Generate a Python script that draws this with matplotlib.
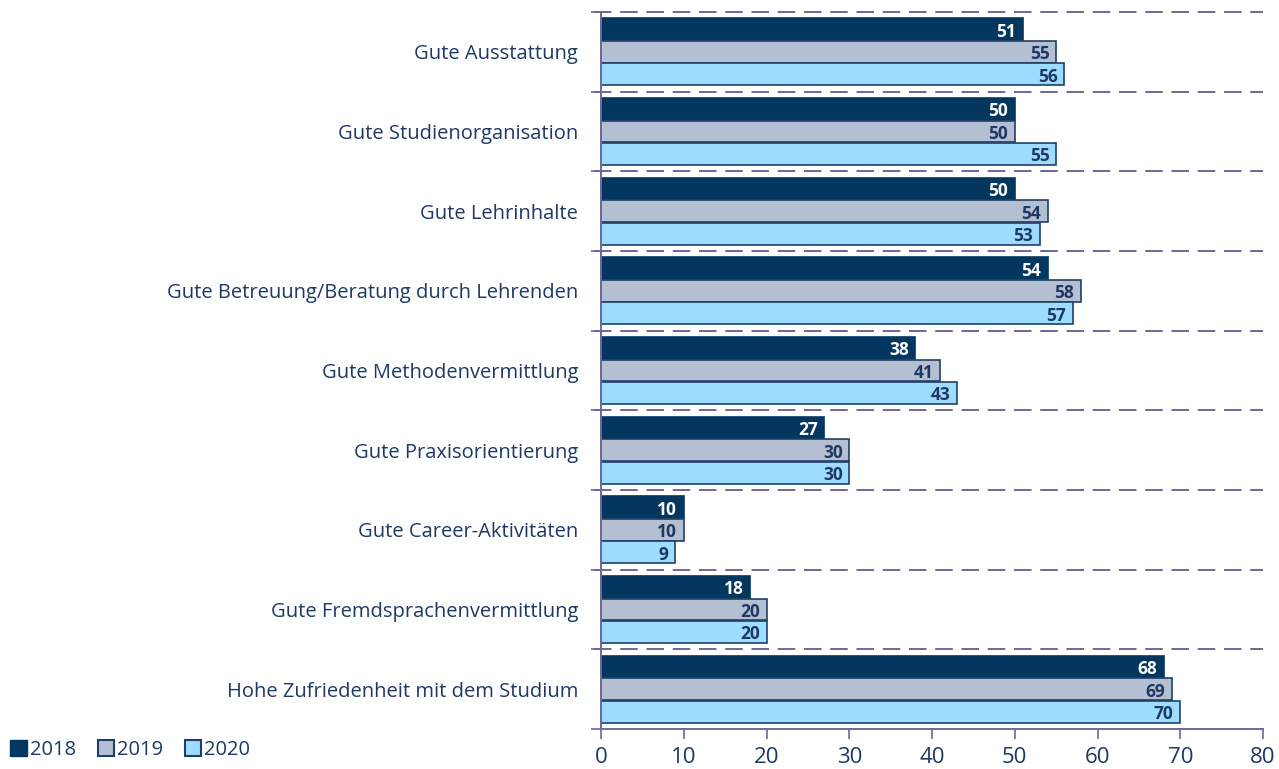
import numpy as np
import matplotlib.pyplot as plt
from matplotlib.patches import Patch

# Data (top to bottom as shown)
categories = ["Gute Ausstattung", "Gute Studienorganisation", "Gute Lehrinhalte",
              "Gute Betreuung/Beratung durch Lehrenden", "Gute Methodenvermittlung",
              "Gute Praxisorientierung", "Gute Career-Aktivitäten",
              "Gute Fremdsprachenvermittlung", "Hohe Zufriedenheit mit dem Studium"]
years = ["2018", "2019", "2020"]
v2018 = [51, 50, 50, 54, 38, 27, 10, 18, 68]
v2019 = [55, 50, 54, 58, 41, 30, 10, 20, 69]
v2020 = [56, 55, 53, 57, 43, 30, 9, 20, 70]

colors = ["#03375F", "#B4BFD1", "#9DDCFF"]
edge = "#1F3F66"
navy = "#1F3864"
grid_c = "#6E6798"

plt.rcParams['font.family'] = ['Open Sans', 'DejaVu Sans']

fig = plt.figure(figsize=(12.79, 7.69), dpi=100)
ax = fig.add_axes([0.4699, 0.052, 0.5176, 0.9324])

n = len(categories)
y = np.arange(n)  # 0 at top after inversion
h = 0.283
series = [v2018, v2019, v2020]
for k, vals in enumerate(series):
    pos = y - h + k * h
    ec = colors[0] if k == 0 else edge
    ax.barh(pos, vals, height=h * 0.97, color=colors[k], edgecolor=ec, linewidth=1.2)
    tc = "white" if k == 0 else navy
    for p, v in zip(pos, vals):
        ax.text(v - 0.8, p + 0.03, str(v), ha="right", va="center", color=tc,
                fontsize=12.5, fontweight="bold")

ax.set_xlim(0, 80)
ax.set_ylim(n - 0.5, -0.5)

# dashed separators between categories
for b in np.arange(-0.5, n - 0.5, 1.0):
    ax.axhline(b, color=grid_c, linestyle=(0, (9, 4.5)), linewidth=1.4, xmin=-0.01, clip_on=False)

ax.set_yticks(y)
ax.set_yticklabels(categories, fontsize=14.5, color=navy)
ax.tick_params(axis="y", length=0, pad=16.5)
ax.set_yticks(np.arange(-0.5, n, 1.0), minor=True)
ax.tick_params(axis="y", which="minor", length=7, color=grid_c, width=1.2)

ax.set_xticks(np.arange(0, 81, 10))
ax.tick_params(axis="x", length=7, color=grid_c, width=1.2, labelsize=16,
               labelcolor=navy, pad=6)

for s in ["top", "right"]:
    ax.spines[s].set_visible(False)
for s in ["left", "bottom"]:
    ax.spines[s].set_color(grid_c)
    ax.spines[s].set_linewidth(1.4)

handles = [Patch(facecolor=colors[0], edgecolor=colors[0]),
           Patch(facecolor=colors[1], edgecolor=edge, linewidth=1.5),
           Patch(facecolor=colors[2], edgecolor=edge, linewidth=1.5)]
leg = fig.legend(handles, years, loc="lower left", bbox_to_anchor=(-0.006, -0.012), ncol=3,
                 frameon=False, fontsize=14.5, handlelength=0.8, handleheight=0.8,
                 handletextpad=0.15, columnspacing=1.1)
for t in leg.get_texts():
    t.set_color(navy)

fig.savefig("out.png", dpi=100)
